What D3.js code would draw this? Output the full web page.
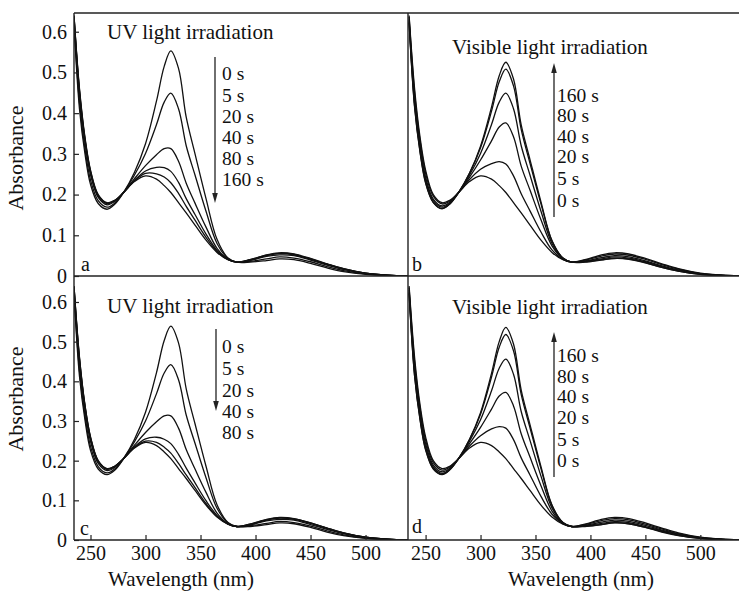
<!DOCTYPE html>
<html>
<head>
<meta charset="utf-8">
<title>Absorbance spectra</title>
<script src="https://cdn.jsdelivr.net/npm/d3@7"></script>
<style>
body { margin: 0; background: #fff; }
</style>
</head>
<body>
<script>
// wavelength grid (nm), shared by every spectrum
var wavelengths = [235, 240, 245, 250, 257, 265, 272, 280, 290, 300, 310, 317, 323, 330, 337, 345, 355, 365, 375, 383, 395, 410, 422, 435, 450, 465, 480, 500, 520, 540];

// panel a - UV light irradiation
var a_0s   = [0.620,0.410,0.300,0.225,0.178,0.164,0.176,0.205,0.255,0.325,0.430,0.515,0.553,0.510,0.390,0.300,0.190,0.090,0.044,0.034,0.034,0.038,0.042,0.040,0.031,0.020,0.011,0.004,0.001,0];
var a_5s   = [0.626,0.425,0.312,0.236,0.185,0.169,0.179,0.205,0.248,0.301,0.372,0.427,0.449,0.411,0.320,0.248,0.159,0.080,0.043,0.034,0.036,0.042,0.047,0.044,0.035,0.023,0.013,0.005,0.001,0];
var a_20s  = [0.634,0.445,0.328,0.249,0.193,0.175,0.183,0.205,0.239,0.271,0.298,0.313,0.313,0.282,0.228,0.179,0.120,0.068,0.041,0.034,0.038,0.048,0.052,0.050,0.039,0.027,0.016,0.006,0.002,0];
var a_40s  = [0.637,0.452,0.334,0.255,0.197,0.178,0.185,0.205,0.235,0.258,0.267,0.266,0.257,0.230,0.190,0.151,0.103,0.063,0.041,0.034,0.039,0.050,0.055,0.052,0.041,0.029,0.017,0.007,0.002,0];
var a_80s  = [0.639,0.456,0.337,0.258,0.198,0.179,0.185,0.205,0.234,0.252,0.251,0.243,0.229,0.203,0.171,0.137,0.095,0.060,0.040,0.034,0.040,0.051,0.056,0.053,0.042,0.029,0.018,0.007,0.002,0];
var a_160s = [0.640,0.460,0.340,0.260,0.200,0.180,0.186,0.205,0.232,0.246,0.238,0.222,0.205,0.180,0.155,0.125,0.088,0.058,0.040,0.034,0.040,0.052,0.057,0.054,0.043,0.030,0.018,0.007,0.002,0];

// panel b - visible light irradiation
var b_0s   = [0.640,0.460,0.340,0.260,0.200,0.180,0.186,0.205,0.232,0.246,0.238,0.222,0.205,0.180,0.155,0.125,0.088,0.058,0.040,0.034,0.040,0.052,0.057,0.054,0.043,0.030,0.018,0.007,0.002,0];
var b_5s   = [0.636,0.450,0.332,0.253,0.196,0.177,0.184,0.205,0.237,0.262,0.276,0.281,0.275,0.246,0.202,0.160,0.108,0.064,0.041,0.034,0.039,0.049,0.054,0.051,0.041,0.028,0.017,0.006,0.002,0];
var b_20s  = [0.630,0.436,0.320,0.243,0.189,0.172,0.181,0.205,0.243,0.285,0.332,0.366,0.376,0.342,0.270,0.211,0.138,0.074,0.042,0.034,0.037,0.045,0.050,0.047,0.037,0.025,0.015,0.006,0.002,0];
var b_40s  = [0.626,0.425,0.312,0.236,0.185,0.169,0.179,0.205,0.248,0.301,0.372,0.427,0.449,0.411,0.320,0.248,0.159,0.080,0.043,0.034,0.036,0.042,0.047,0.044,0.035,0.023,0.013,0.005,0.001,0];
var b_80s  = [0.623,0.417,0.305,0.230,0.181,0.166,0.177,0.205,0.252,0.315,0.405,0.477,0.508,0.467,0.360,0.277,0.177,0.086,0.044,0.034,0.035,0.040,0.044,0.042,0.033,0.021,0.012,0.004,0.001,0];
var b_160s = [0.622,0.414,0.303,0.228,0.180,0.165,0.177,0.205,0.253,0.319,0.415,0.492,0.525,0.484,0.371,0.286,0.182,0.087,0.044,0.034,0.034,0.039,0.043,0.041,0.032,0.021,0.012,0.004,0.001,0];

// panel c - UV light irradiation
var c_0s   = [0.621,0.412,0.302,0.226,0.179,0.165,0.176,0.205,0.254,0.322,0.422,0.503,0.539,0.497,0.381,0.293,0.186,0.089,0.044,0.034,0.034,0.039,0.043,0.041,0.032,0.020,0.011,0.004,0.001,0];
var c_5s   = [0.626,0.426,0.313,0.236,0.185,0.169,0.179,0.205,0.248,0.300,0.369,0.421,0.442,0.404,0.315,0.244,0.157,0.080,0.043,0.034,0.036,0.042,0.047,0.044,0.035,0.023,0.013,0.005,0.001,0];
var c_20s  = [0.634,0.445,0.328,0.249,0.193,0.175,0.183,0.205,0.239,0.271,0.298,0.313,0.313,0.282,0.228,0.179,0.120,0.068,0.041,0.034,0.038,0.048,0.052,0.050,0.039,0.027,0.016,0.006,0.002,0];
var c_40s  = [0.638,0.454,0.336,0.256,0.198,0.178,0.185,0.205,0.235,0.255,0.259,0.254,0.243,0.216,0.181,0.144,0.099,0.062,0.040,0.034,0.039,0.050,0.055,0.052,0.042,0.029,0.017,0.007,0.002,0];
var c_80s  = [0.639,0.458,0.338,0.259,0.199,0.179,0.186,0.205,0.233,0.249,0.246,0.234,0.219,0.193,0.164,0.132,0.092,0.059,0.040,0.034,0.040,0.051,0.056,0.053,0.043,0.030,0.018,0.007,0.002,0];
var c_160s = [0.640,0.460,0.340,0.260,0.200,0.180,0.186,0.205,0.232,0.246,0.238,0.222,0.205,0.180,0.155,0.125,0.088,0.058,0.040,0.034,0.040,0.052,0.057,0.054,0.043,0.030,0.018,0.007,0.002,0];

// panel d - visible light irradiation
var d_0s   = [0.640,0.460,0.340,0.260,0.200,0.180,0.186,0.205,0.232,0.246,0.238,0.222,0.205,0.180,0.155,0.125,0.088,0.058,0.040,0.034,0.040,0.052,0.057,0.054,0.043,0.030,0.018,0.007,0.002,0];
var d_5s   = [0.636,0.449,0.331,0.252,0.195,0.176,0.184,0.205,0.237,0.263,0.280,0.286,0.282,0.253,0.207,0.164,0.110,0.065,0.041,0.034,0.039,0.049,0.054,0.051,0.040,0.028,0.016,0.006,0.002,0];
var d_20s  = [0.630,0.436,0.321,0.243,0.189,0.172,0.181,0.205,0.243,0.284,0.330,0.363,0.372,0.338,0.268,0.209,0.137,0.073,0.042,0.034,0.037,0.045,0.050,0.047,0.037,0.025,0.015,0.006,0.002,0];
var d_40s  = [0.626,0.424,0.311,0.235,0.184,0.168,0.179,0.205,0.249,0.303,0.376,0.433,0.456,0.418,0.324,0.251,0.161,0.081,0.043,0.034,0.036,0.042,0.046,0.044,0.034,0.023,0.013,0.005,0.001,0];
var d_80s  = [0.622,0.415,0.304,0.229,0.180,0.166,0.177,0.205,0.253,0.317,0.411,0.486,0.518,0.477,0.367,0.283,0.180,0.087,0.044,0.034,0.035,0.039,0.044,0.041,0.032,0.021,0.012,0.004,0.001,0];
var d_160s = [0.621,0.413,0.302,0.227,0.179,0.165,0.177,0.205,0.254,0.321,0.420,0.500,0.536,0.494,0.378,0.291,0.185,0.088,0.044,0.034,0.034,0.039,0.043,0.041,0.032,0.020,0.011,0.004,0.001,0];

// labels
var uvTimes  = ["0 s", "5 s", "20 s", "40 s", "80 s", "160 s"];
var uvTimesC = ["0 s", "5 s", "20 s", "40 s", "80 s"];
var visTimes = ["160 s", "80 s", "40 s", "20 s", "5 s", "0 s"];
var xTicks = [250, 300, 350, 400, 450, 500];
var yTicks = [0, 0.1, 0.2, 0.3, 0.4, 0.5, 0.6];

var width = 739, height = 591;
var serif = "'Liberation Serif', 'Times New Roman', 'DejaVu Serif', serif";

var svg = d3.select("body").append("svg")
    .attr("width", width)
    .attr("height", height)
    .style("font-family", serif);

// scales: left / right columns, top / bottom rows
var xLeft  = d3.scaleLinear().domain([235, 538.6]).range([74, 408]);
var xRight = d3.scaleLinear().domain([234, 537]).range([408, 741]);
var yTop    = d3.scaleLinear().domain([0, 0.646]).range([276, 13]);
var yBottom = d3.scaleLinear().domain([0, 0.6655]).range([540, 276]);

var panels = [
    {key: "a", x: xLeft,  y: yTop,    series: [a_0s, a_5s, a_20s, a_40s, a_80s, a_160s],
     title: "UV light irradiation", tx: 107, ty: 39,
     times: uvTimes, lx: 222, ly: [80, 101.5, 122.5, 143.5, 164.5, 186], arrow: [215, 57, 203], up: false,
     letter: [81, 271]},
    {key: "b", x: xRight, y: yTop,    series: [b_0s, b_5s, b_20s, b_40s, b_80s, b_160s],
     title: "Visible light irradiation", tx: 452, ty: 54,
     times: visTimes, lx: 557, ly: [101.5, 122, 142.5, 163, 185, 207], arrow: [554, 217, 63], up: true,
     letter: [412, 271]},
    {key: "c", x: xLeft,  y: yBottom, series: [c_0s, c_5s, c_20s, c_40s, c_80s, c_160s],
     title: "UV light irradiation", tx: 107, ty: 313,
     times: uvTimesC, lx: 222, ly: [353, 375, 396.5, 417.5, 438.5], arrow: [216, 329, 411], up: false,
     letter: [80, 535]},
    {key: "d", x: xRight, y: yBottom, series: [d_0s, d_5s, d_20s, d_40s, d_80s, d_160s],
     title: "Visible light irradiation", tx: 452, ty: 314,
     times: visTimes, lx: 557, ly: [362, 382.5, 403, 423.5, 446, 467], arrow: [554, 477, 332], up: true,
     letter: [412, 533]}
];

var defs = svg.append("defs");

panels.forEach(function(p) {
    var xr = p.x.range(), yr = p.y.range();
    defs.append("clipPath").attr("id", "clip-" + p.key)
        .append("rect")
        .attr("x", xr[0]).attr("y", yr[1])
        .attr("width", Math.min(xr[1], width) - xr[0]).attr("height", yr[0] - yr[1]);

    var line = d3.line()
        .x(function(d, i) { return p.x(wavelengths[i]); })
        .y(function(d) { return p.y(d); })
        .curve(d3.curveCatmullRom.alpha(0.5));

    svg.append("g")
        .attr("clip-path", "url(#clip-" + p.key + ")")
        .selectAll("path")
        .data(p.series)
        .enter().append("path")
        .attr("d", line)
        .attr("fill", "none")
        .attr("stroke", "#111")
        .attr("stroke-width", 1.3);

    // title
    svg.append("text")
        .attr("x", p.tx).attr("y", p.ty)
        .attr("font-size", 21)
        .attr("fill", "#111")
        .text(p.title);

    // time labels
    svg.selectAll(".t-" + p.key)
        .data(p.times)
        .enter().append("text")
        .attr("class", "t-" + p.key)
        .attr("x", p.lx)
        .attr("y", function(d, i) { return p.ly[i]; })
        .attr("font-size", 19.5)
        .attr("fill", "#111")
        .text(function(d) { return d; });

    // arrow
    var ax = p.arrow[0], y0 = p.arrow[1], y1 = p.arrow[2];
    var dir = p.up ? -1 : 1;
    svg.append("line")
        .attr("x1", ax).attr("x2", ax)
        .attr("y1", y0).attr("y2", y1 - dir * 6)
        .attr("stroke", "#333").attr("stroke-width", 1.4);
    svg.append("path")
        .attr("d", "M" + (ax - 2.8) + "," + (y1 - dir * 10) + "L" + ax + "," + y1 + "L" + (ax + 2.8) + "," + (y1 - dir * 10) + "Z")
        .attr("fill", "#222");

    // panel letter
    svg.append("text")
        .attr("x", p.letter[0]).attr("y", p.letter[1])
        .attr("font-size", 20)
        .attr("fill", "#111")
        .text(p.key);
});

// frames
var frame = svg.append("g").attr("stroke", "#222").attr("stroke-width", 1.4);
var hLines = [[74, width, 13], [74, width, 276], [74, width, 540]];
var vLines = [[74, 13, 540], [408, 13, 540]];
hLines.forEach(function(l) {
    frame.append("line").attr("x1", l[0]).attr("x2", l[1]).attr("y1", l[2]).attr("y2", l[2]);
});
vLines.forEach(function(l) {
    frame.append("line").attr("x1", l[0]).attr("x2", l[0]).attr("y1", l[1]).attr("y2", l[2]);
});

// y axes (left column only)
function yAxis(scale) {
    var g = svg.append("g")
        .attr("transform", "translate(74,0)")
        .call(d3.axisLeft(scale)
            .tickValues(yTicks)
            .tickSize(-5)
            .tickSizeOuter(0)
            .tickPadding(7)
            .tickFormat(function(d) { return d === 0 ? "0" : d3.format(".1f")(d); }));
    g.attr("font-family", serif).attr("font-size", 20);
    g.select(".domain").remove();
    g.selectAll(".tick line").attr("stroke", "#222").attr("stroke-width", 1.2);
    g.selectAll("text").attr("fill", "#111");
}
yAxis(yTop);
yAxis(yBottom);

// x axes (bottom row only)
[xLeft, xRight].forEach(function(sc) {
    var g = svg.append("g")
        .attr("transform", "translate(0,540)")
        .call(d3.axisBottom(sc)
            .tickValues(xTicks)
            .tickSize(-5)
            .tickSizeOuter(0)
            .tickPadding(6));
    g.attr("font-family", serif).attr("font-size", 20);
    g.select(".domain").remove();
    g.selectAll(".tick line").attr("stroke", "#222").attr("stroke-width", 1.2);
    g.selectAll("text").attr("fill", "#111");
});

// axis titles
[158, 399].forEach(function(cy) {
    svg.append("text")
        .attr("transform", "translate(23," + cy + ") rotate(-90)")
        .attr("text-anchor", "middle")
        .attr("font-size", 22)
        .attr("fill", "#111")
        .text("Absorbance");
});
[181, 581].forEach(function(cx) {
    svg.append("text")
        .attr("x", cx).attr("y", 586)
        .attr("text-anchor", "middle")
        .attr("font-size", 21)
        .attr("fill", "#111")
        .text("Wavelength (nm)");
});
</script>
</body>
</html>
